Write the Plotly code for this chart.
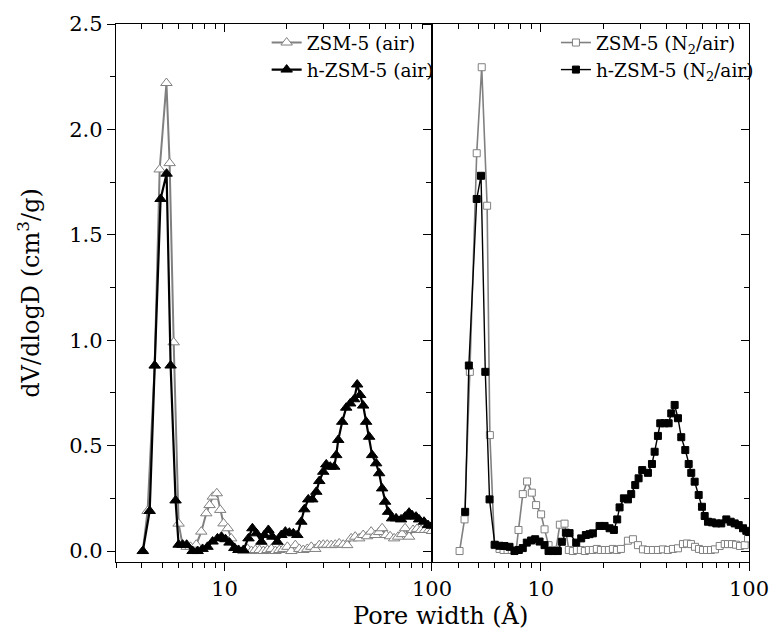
import math
import plotly.graph_objects as go

# ---------------- data (pore width in Å, dV/dlogD in cm3/g) ----------------
# Left panel
zsm_air_x = [4.04, 4.26, 4.61, 4.87, 5.25, 5.44, 5.69, 6.01, 6.28, 6.57, 6.86, 7.31,
             7.73, 8.17, 8.47, 8.79, 9.18, 9.54, 9.89, 10.37, 10.77, 11.17, 11.68, 12.34,
             12.90, 13.48, 14.09, 14.74, 15.40, 16.10, 16.83, 17.59, 18.38, 19.22, 20.09,
             20.99, 21.95, 22.94, 23.98, 25.06, 26.20, 27.38, 28.63, 29.92, 31.28, 32.69,
             34.18, 35.72, 37.34, 39.03, 40.79, 42.64, 44.57, 46.59, 48.70, 50.90, 53.21,
             55.62, 57.50, 60.10, 62.83, 65.68, 68.65, 71.76, 74.18, 77.53, 81.05, 84.72,
             88.56, 92.56, 96.74, 100.0]
zsm_air_y = [0.0, 0.19, 0.88, 1.81, 2.22, 1.84, 0.99, 0.13, 0.03, 0.02, 0.02, 0.03,
             0.092, 0.179, 0.218, 0.258, 0.274, 0.195, 0.131, 0.108, 0.06, 0.014, 0.005, 0.0,
             0.01, 0.0, 0.005, 0.005, 0.0, 0.005, 0.01, 0.0, 0.005, 0.01, 0.02,
             0.0, 0.028, 0.01, 0.005, 0.01, 0.02, 0.01, 0.028, 0.03, 0.03, 0.028,
             0.03, 0.036, 0.03, 0.028, 0.06, 0.068, 0.06, 0.076, 0.07, 0.092, 0.076,
             0.09, 0.108, 0.076, 0.07, 0.06, 0.068, 0.08, 0.108, 0.068, 0.1, 0.105,
             0.1, 0.1, 0.1, 0.095]

hzsm_air_x = [4.04, 4.36, 4.61, 4.92, 5.26, 5.50, 5.81, 6.01, 6.28, 6.57, 7.02, 7.42,
              7.84, 8.28, 8.76, 9.25, 9.67, 10.11, 10.57, 11.17, 11.68, 12.34, 13.05, 13.63,
              14.25, 15.06, 15.57, 16.27, 17.01, 17.98, 18.79, 19.65, 20.54, 21.47, 22.44,
              23.46, 24.25, 25.34, 26.49, 27.70, 28.63, 29.92, 30.94, 32.34, 33.80, 34.56,
              35.33, 36.93, 38.60, 40.35, 42.17, 43.60, 45.07, 46.59, 48.16, 49.79, 51.46,
              53.80, 55.62, 57.50, 59.43, 61.44, 64.23, 67.13, 70.96, 74.18, 77.53, 80.15,
              83.79, 86.61, 91.53, 95.68, 100.0]
hzsm_air_y = [0.0, 0.19, 0.88, 1.67, 1.79, 0.88, 0.24, 0.03, 0.03, 0.03, 0.0, 0.0,
              0.01, 0.02, 0.045, 0.06, 0.068, 0.056, 0.04, 0.015, 0.005, 0.005, 0.06, 0.108,
              0.084, 0.044, 0.076, 0.1, 0.068, 0.044, 0.076, 0.092, 0.087, 0.084, 0.076,
              0.139, 0.198, 0.245, 0.245, 0.281, 0.332, 0.376, 0.411, 0.40, 0.40, 0.455,
              0.527, 0.613, 0.68, 0.70, 0.72, 0.79, 0.74, 0.69, 0.613, 0.542, 0.455,
              0.416, 0.369, 0.297, 0.234, 0.186, 0.155, 0.155, 0.15, 0.163, 0.182, 0.17,
              0.163, 0.15, 0.139, 0.123, 0.12]

# Right panel
zsm_n2_x = [4.07, 4.30, 4.56, 4.92, 5.20, 5.52, 5.69, 5.99, 6.33, 6.62, 6.92, 7.25,
            7.61, 7.81, 8.19, 8.59, 9.05, 9.49, 10.03, 10.42, 10.89, 11.38, 11.81, 12.34,
            13.00, 13.63, 14.25, 14.90, 15.57, 16.27, 17.01, 17.78, 18.58, 19.43, 20.31,
            21.23, 22.19, 23.20, 24.25, 26.20, 27.70, 29.27, 30.94, 32.69, 34.56, 36.52,
            38.60, 40.79, 43.11, 45.58, 48.16, 50.34, 52.62, 55.02, 57.50, 60.10, 62.83,
            65.68, 68.65, 72.30, 76.43, 79.25, 82.87, 86.61, 90.52, 95.35, 98.90]
zsm_n2_y = [0.0, 0.15, 0.85, 1.887, 2.295, 1.638, 0.55, 0.028, 0.01, 0.005, 0.005, 0.005,
            0.005, 0.1, 0.27, 0.33, 0.277, 0.218, 0.174, 0.103, 0.028, 0.005, 0.005, 0.125,
            0.13, 0.005, 0.0, 0.005, 0.005, 0.0, 0.005, 0.005, 0.01, 0.005, 0.005,
            0.005, 0.01, 0.005, 0.01, 0.049, 0.056, 0.028, 0.008, 0.005, 0.005, 0.005,
            0.008, 0.005, 0.01, 0.013, 0.033, 0.036, 0.033, 0.02, 0.01, 0.005, 0.005,
            0.005, 0.008, 0.024, 0.033, 0.033, 0.033, 0.03, 0.024, 0.028, 0.06]

hzsm_n2_x = [4.33, 4.51, 4.92, 5.16, 5.41, 5.67, 6.01, 6.33, 6.69, 7.07, 7.47, 7.84,
             8.19, 8.56, 8.98, 9.39, 9.86, 10.42, 10.89, 11.42, 12.07, 12.62, 13.19, 13.74,
             14.79, 15.63, 16.45, 17.14, 17.78, 19.15, 20.24, 21.39, 22.44, 23.27, 23.89,
             25.06, 26.20, 27.17, 28.41, 29.49, 30.69, 32.69, 34.18, 35.21, 36.52, 37.47,
             39.33, 41.11, 42.31, 43.94, 45.58, 47.27, 49.42, 51.31, 52.80, 54.82, 57.31,
             59.43, 61.24, 63.53, 66.39, 69.63, 73.60, 77.81, 81.66, 85.37, 89.25, 93.58,
             97.06, 100.0]
hzsm_n2_y = [0.186, 0.88, 1.67, 1.78, 0.85, 0.245, 0.03, 0.025, 0.024, 0.02, 0.0, 0.005,
             0.014, 0.04, 0.05, 0.056, 0.045, 0.028, 0.0, 0.0, 0.0, 0.044, 0.087, 0.085,
             0.04, 0.06, 0.076, 0.08, 0.084, 0.119, 0.119, 0.108, 0.1, 0.15, 0.207,
             0.25, 0.245, 0.27, 0.313, 0.345, 0.384, 0.371, 0.413, 0.471, 0.546, 0.606,
             0.606, 0.606, 0.653, 0.693, 0.63, 0.54, 0.479, 0.413, 0.371, 0.329, 0.266,
             0.21, 0.166, 0.139, 0.136, 0.131, 0.131, 0.15, 0.139, 0.131, 0.123, 0.108,
             0.096, 0.09]

x_major = [10, 100]
x_major_text = ["10", "100"]
x_minor = [3, 4, 5, 6, 7, 8, 9, 20, 30, 40, 50, 60, 70, 80, 90]
y_major = [0.0, 0.5, 1.0, 1.5, 2.0, 2.5]
y_major_text = ["0.0", "0.5", "1.0", "1.5", "2.0", "2.5"]
y_minor = [0.25, 0.75, 1.25, 1.75, 2.25]

GRAY = "#808080"
FONT = "DejaVu Serif"
XR = [math.log10(3), 2]
YR = [-0.052, 2.5]
SPLIT = 0.4992

fig = go.Figure()

def add(x, y, name, color, symbol, fill, size, lw, xa, ya, leg):
    fig.add_trace(go.Scatter(
        x=x, y=y, name=name, mode="lines+markers", xaxis=xa, yaxis=ya, legend=leg,
        line=dict(color=color, width=lw),
        marker=dict(symbol=symbol, size=size, color=fill, line=dict(color=color, width=1)),
    ))

add(zsm_air_x, zsm_air_y, "ZSM-5 (air)", GRAY, "triangle-up", "white", 10, 2, "x", "y", "legend")
add(hzsm_air_x, hzsm_air_y, "h-ZSM-5 (air)", "black", "triangle-up", "black", 10, 2.2, "x", "y", "legend")
add(zsm_n2_x, zsm_n2_y, "ZSM-5 (N<sub>2</sub>/air)", GRAY, "square", "white", 7, 1.6, "x2", "y2", "legend2")
add(hzsm_n2_x, hzsm_n2_y, "h-ZSM-5 (N<sub>2</sub>/air)", "black", "square", "black", 7, 1.4, "x2", "y2", "legend2")

# invisible helpers so that mirror axes (inward ticks) are drawn
for xa, ya in [("x3", "y"), ("x", "y3"), ("x4", "y2"), ("x2", "y4")]:
    fig.add_trace(go.Scatter(x=[10], y=[1], mode="markers", marker=dict(opacity=0),
                             xaxis=xa, yaxis=ya, showlegend=False, hoverinfo="skip"))

tickfont = dict(family=FONT, size=21, color="black")

def xax(domain=None, overlay=None, side="bottom", ticks="outside", labels=True, anchor=None):
    d = dict(type="log", range=XR, tickmode="array", tickvals=x_major, ticktext=x_major_text,
             ticks=ticks, ticklen=8, tickwidth=1.3, tickcolor="black", automargin=False,
             ticklabeloverflow="allow",
             showline=True, linecolor="black", linewidth=1.3, showgrid=False, zeroline=False,
             showticklabels=labels, tickfont=tickfont, side=side,
             minor=dict(tickmode="array", tickvals=x_minor, ticks=ticks, ticklen=5,
                        tickwidth=1, tickcolor="black", showgrid=False))
    if domain is not None:
        d["domain"] = domain
    if overlay:
        d["overlaying"] = overlay
    if anchor:
        d["anchor"] = anchor
    return d

def yax(overlay=None, side="left", ticks="outside", labels=True, anchor=None, title=None):
    d = dict(range=YR, tickmode="array", tickvals=y_major, ticktext=y_major_text,
             ticks=ticks, ticklen=8, tickwidth=1.3, tickcolor="black", automargin=False,
             showline=True, linecolor="black", linewidth=1.3, showgrid=False, zeroline=False,
             showticklabels=labels, tickfont=tickfont, side=side,
             minor=dict(tickmode="array", tickvals=y_minor, ticks=ticks, ticklen=5,
                        tickwidth=1, tickcolor="black", showgrid=False))
    if overlay:
        d["overlaying"] = overlay
    if anchor:
        d["anchor"] = anchor
    if title:
        d["title"] = dict(text=title, font=dict(family=FONT, size=24, color="black"), standoff=22)
    return d

legfont = dict(family=FONT, size=18.5, color="black")

fig.update_layout(
    width=771, height=635,
    margin=dict(l=116, r=20, t=24, b=73),
    paper_bgcolor="white", plot_bgcolor="white",
    font=dict(family=FONT, color="black"),
    xaxis=xax(domain=[0, SPLIT], anchor="y"),
    yaxis=yax(anchor="x", title="dV/dlogD (cm<sup>3</sup>/g)"),
    xaxis2=xax(domain=[SPLIT, 1], anchor="y2"),
    yaxis2=yax(anchor="x2", labels=False),
    xaxis3=xax(overlay="x", side="top", ticks="inside", labels=False, anchor="y"),
    yaxis3=yax(overlay="y", side="right", ticks="inside", labels=False, anchor="x"),
    xaxis4=xax(overlay="x2", side="top", ticks="inside", labels=False, anchor="y2"),
    yaxis4=yax(overlay="y2", side="right", ticks="inside", labels=False, anchor="x2"),
    legend=dict(x=0.238, xanchor="left", y=1.0, yanchor="top", font=legfont,
                bgcolor="rgba(0,0,0,0)", tracegroupgap=0),
    legend2=dict(x=0.695, xanchor="left", y=1.0, yanchor="top", font=legfont,
                 bgcolor="rgba(0,0,0,0)", tracegroupgap=0),
    showlegend=True,
    annotations=[dict(text="Pore width (Å)", xref="paper", yref="paper", x=0.513, y=-0.1,
                      xanchor="center", yanchor="middle", showarrow=False,
                      font=dict(family=FONT, size=24, color="black"))],
)

fig.write_html("out.html")
